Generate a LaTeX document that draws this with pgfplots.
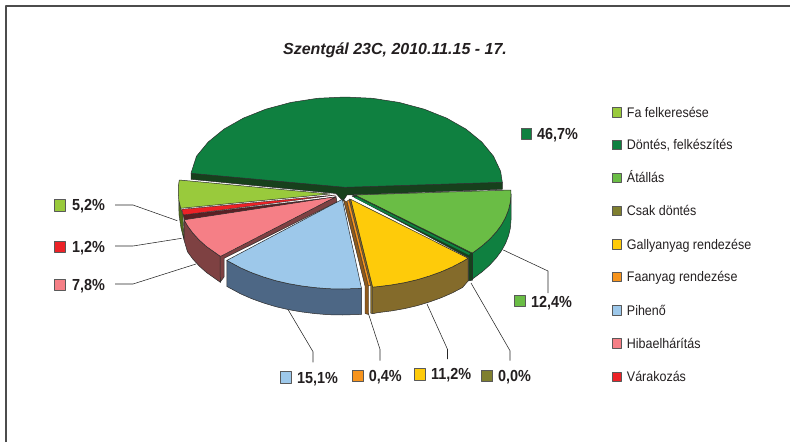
\documentclass[border=0pt]{standalone}
\usepackage{pgfplots}
\pgfplotsset{compat=1.18}
\usepackage{fontspec}
\setmainfont{Liberation Sans}
\newfontfamily\cond{Liberation Sans}[FakeStretch=0.9]
\definecolor{cFa}{HTML}{99CA3C}
\definecolor{cDon}{HTML}{0F8040}
\definecolor{cDonD}{HTML}{17401C}
\definecolor{cAt}{HTML}{6ABD45}
\definecolor{cCsak}{HTML}{7F7F2F}
\definecolor{cGal}{HTML}{FECB0A}
\definecolor{cGalS}{HTML}{846B2B}
\definecolor{cFaa}{HTML}{F7941D}
\definecolor{cFaaS}{HTML}{8F5A1C}
\definecolor{cPih}{HTML}{9DC8EA}
\definecolor{cPihS}{HTML}{4D6785}
\definecolor{cHib}{HTML}{F57F86}
\definecolor{cHibS}{HTML}{7E4142}
\definecolor{cVar}{HTML}{EC2227}
\definecolor{cVarS}{HTML}{5A2024}
\definecolor{cFaS}{HTML}{4F6A1C}
\definecolor{edge}{HTML}{2A2A2A}
\definecolor{txt}{HTML}{231F20}
\newcommand{\sw}[5]{\addplot[fill=#5,draw=black!65,line width=0.7pt] coordinates {(#1,#2)(#3,#2)(#3,#4)(#1,#4)} --cycle;}
\newcommand{\lab}[3]{\node[anchor=base west,inner sep=0pt,text=txt,font=\cond\fontsize{16}{18}\selectfont\bfseries] at (axis cs:#1,#2) {#3};}
\newcommand{\leg}[2]{\node[anchor=base west,inner sep=0pt,text=txt,font=\cond\fontsize{13.9}{16}\selectfont] at (axis cs:626.7,#1) {#2};}
\begin{document}
\begin{tikzpicture}
\begin{axis}[scale only axis,width=790pt,height=442pt,xmin=0,xmax=790,ymin=0,ymax=442,y dir=reverse,axis lines=none,clip=false,no markers,
  every axis plot/.append style={line join=round}]
\path[use as bounding box] (axis cs:0,0) rectangle (axis cs:790,442);
% frame
\addplot[draw=black!70,line width=1.5pt] coordinates {(6,442)(6,6)(790,6)};
% leader lines
\pgfplotsset{leader/.style={draw=black!85,line width=0.55pt}}
\addplot[leader] coordinates {(115,205)(133,205)(177.3,220.7)};
\addplot[leader] coordinates {(115,246)(133,246)(181.7,238.3)};
\addplot[leader] coordinates {(115,284)(133,284)(196,264)};
\addplot[leader] coordinates {(503.3,250)(548,271)(548,293)};
\addplot[leader] coordinates {(471,283)(510,350.7)(510,360.7)};
\addplot[leader] coordinates {(427,304)(447.5,349.3)(447.5,359)};
\addplot[leader] coordinates {(368.3,313.3)(380,349.3)(380,360.7)};
\addplot[leader] coordinates {(288.3,310)(313,351.7)(313,362.3)};
% Doentes: cut face and top
\addplot[fill=cDonD,draw=edge,line width=0.5pt] coordinates {(191,173.3)(345,187.3)(502.3,182.3)(502.3,189.3)(347,195)(343,201)(336,193.5)(191,179.3)} --cycle;
\addplot[fill=cDon,draw=edge,line width=0.5pt] coordinates {(502.3,182.3)(500.6,171.3)(493.5,156.2)(481.8,142)(466,129.1)(446.6,118.1)(424,109.1)(399,102.4)(372.5,98.3)(345,97)(317.5,98.3)(291,102.4)(266,109.1)(243.4,118.1)(224,129.1)(208.2,142)(196.5,156.2)(191,173.3)(345,187.3)} --cycle;
% Atallas
\addplot[fill=cDon,draw=edge,line width=0.5pt] coordinates {(511,194)(510.4,201.8)(508.6,209.6)(505.6,217.3)(501.5,224.8)(496.2,232)(489.8,239)(482.4,245.6)(474,251.9)(472.2,253)(472.2,279)(474,277.9)(482.4,271.6)(489.8,265)(496.2,258)(501.5,250.8)(505.6,243.3)(508.6,235.6)(510.4,227.8)(511,220)} --cycle;
\addplot[fill=cDonD,draw=edge,line width=0.5pt] coordinates {(352,196)(355,195)(472.7,253.3)(472.7,280)(468.3,281)(468.3,257.7)} --cycle;
\addplot[fill=cDon,draw=none] coordinates {(356,196.5)(470,253.3)(469,255)(354,197.5)} --cycle;
\addplot[fill=cAt,draw=edge,line width=0.5pt] coordinates {(355,195)(510.8,190)(511,194)(510.4,201.8)(508.6,209.6)(505.6,217.3)(501.5,224.8)(496.2,232)(489.8,239)(482.4,245.6)(474,251.9)(472.2,253)} --cycle;
% Galyanyag
\addplot[fill=cGalS,draw=edge,line width=0.5pt] coordinates {(372.5,287)(378.2,286.6)(391.6,284.9)(404.7,282.6)(417.5,279.6)(429.7,275.9)(441.3,271.7)(452.3,266.9)(462.4,261.6)(468.1,258.2)(468.1,281)(462.4,287.6)(452.3,292.9)(441.3,297.7)(429.7,301.9)(417.5,305.6)(404.7,308.6)(391.6,310.9)(378.2,312.6)(372.5,313.7)} --cycle;
\addplot[fill=cGalS,draw=edge,line width=0.4pt] coordinates {(349,199)(370.5,286)(370.5,313)(372.5,313.7)(372.5,287)(350.7,199.3)} --cycle;
\addplot[fill=cGal,draw=edge,line width=0.5pt] coordinates {(350.7,199.3)(468.1,258.2)(462.4,261.6)(452.3,266.9)(441.3,271.7)(429.7,275.9)(417.5,279.6)(404.7,282.6)(391.6,284.9)(378.2,286.6)(372.7,287.1)} --cycle;
% Faanyag
\addplot[fill=cFaaS,draw=edge,line width=0.4pt] coordinates {(343.5,200)(365,286)(365,313.5)(368.5,314.5)(368.5,286)(347,202)} --cycle;
\addplot[fill=cFaa,draw=edge,line width=0.3pt] coordinates {(347,201)(368.5,286)(370.5,285.5)(349,200)} --cycle;
% Fa felkeresese
\addplot[fill=cFaS,draw=edge,line width=0.4pt] coordinates {(178.8,200)(180.7,208.3)(183,215)(184,240)(181,228)(179,215)} --cycle;
\addplot[fill=cFa,draw=edge,line width=0.5pt] coordinates {(179.3,180)(178.4,186)(178.3,193)(178.8,200)(180.7,208.3)(330,194)} --cycle;
% Varakozas
\addplot[fill=cVarS,draw=edge,line width=0.4pt] coordinates {(183.3,215)(335.7,197)(335.7,200)(184.3,220)} --cycle;
\addplot[fill=cVar,draw=edge,line width=0.4pt] coordinates {(181.7,209.3)(335.7,195)(183.3,215)} --cycle;
% Hibaelharitas
\addplot[fill=cHibS,draw=edge,line width=0.5pt] coordinates {(184.1,219.8)(187.5,225.8)(192.8,233)(199.2,240)(206.6,246.6)(220.5,256.4)(220.5,282.4)(206.6,272.6)(199.2,266)(192.8,259)(187.5,251.8)(184,240)} --cycle;
\addplot[fill=cHibS,draw=edge,line width=0.5pt] coordinates {(220,255.7)(336,196.7)(337,202)(224,258.3)(224,277)(220.3,282)} --cycle;
\addplot[fill=cHib,draw=edge,line width=0.5pt] coordinates {(336,196.7)(184.1,219.8)(187.5,225.8)(192.8,233)(199.2,240)(206.6,246.6)(220.5,256.4)} --cycle;
% Piheno
\addplot[fill=cPihS,draw=edge,line width=0.5pt] coordinates {(226.8,260.4)(240.7,267.9)(251.7,272.7)(263.3,276.9)(275.5,280.6)(288.3,283.6)(301.4,285.9)(314.9,287.6)(328.5,288.7)(342.3,289)(361.5,288.4)(361.5,314.4)(342.3,315)(328.5,314.7)(314.9,313.6)(301.4,311.9)(288.3,309.6)(275.5,306.6)(263.3,302.9)(251.7,298.7)(240.7,293.9)(226.8,286.4)} --cycle;
\addplot[fill=cPih,draw=edge,line width=0.5pt] coordinates {(342.3,199.3)(361.5,288.4)(342.3,289)(328.5,288.7)(314.9,287.6)(301.4,285.9)(288.3,283.6)(275.5,280.6)(263.3,276.9)(251.7,272.7)(240.7,267.9)(226.8,260.4)} --cycle;
% title
\node[anchor=base,inner sep=0pt,text=txt,font=\fontsize{16}{18}\selectfont\bfseries\itshape] at (axis cs:395,54.5) {Szentgál 23C, 2010.11.15 - 17.};
% data labels
\sw{521}{128}{531.5}{139}{cDon} \lab{537}{139.5}{46,7\%}
\sw{514}{295}{525}{306}{cAt} \lab{531}{307.5}{12,4\%}
\sw{54}{199.5}{65}{211}{cFa} \lab{72}{210.5}{5,2\%}
\sw{54}{241}{65}{252}{cVar} \lab{72}{252}{1,2\%}
\sw{54}{279}{65}{290}{cHib} \lab{72}{290}{7,8\%}
\sw{280}{371.7}{291.6}{383}{cPih} \lab{297}{383.5}{15,1\%}
\sw{352.4}{370.7}{363.5}{381.7}{cFaa} \lab{368.6}{381.5}{0,4\%}
\sw{414.7}{368.7}{425.8}{380}{cGal} \lab{431}{379.5}{11,2\%}
\sw{481.5}{370}{492.6}{381.7}{cCsak} \lab{498}{381.5}{0,0\%}
% legend
\sw{612}{107.6}{621.3}{117}{cFa} \leg{117}{Fa felkeresése}
\sw{612}{140.3}{621.3}{149.7}{cDon} \leg{149.7}{Döntés, felkészítés}
\sw{612}{173.3}{621.3}{182.7}{cAt} \leg{182.7}{Átállás}
\sw{612}{206.3}{621.3}{215.7}{cCsak} \leg{215.7}{Csak döntés}
\sw{612}{239.6}{621.3}{249}{cGal} \leg{249}{Gallyanyag rendezése}
\sw{612}{272.3}{621.3}{281.7}{cFaa} \leg{281.7}{Faanyag rendezése}
\sw{612}{305.6}{621.3}{315}{cPih} \leg{315}{Pihenő}
\sw{612}{338.6}{621.3}{348}{cHib} \leg{348}{Hibaelhárítás}
\sw{612}{372}{621.3}{381.4}{cVar} \leg{381.4}{Várakozás}
\end{axis}
\end{tikzpicture}
\end{document}
